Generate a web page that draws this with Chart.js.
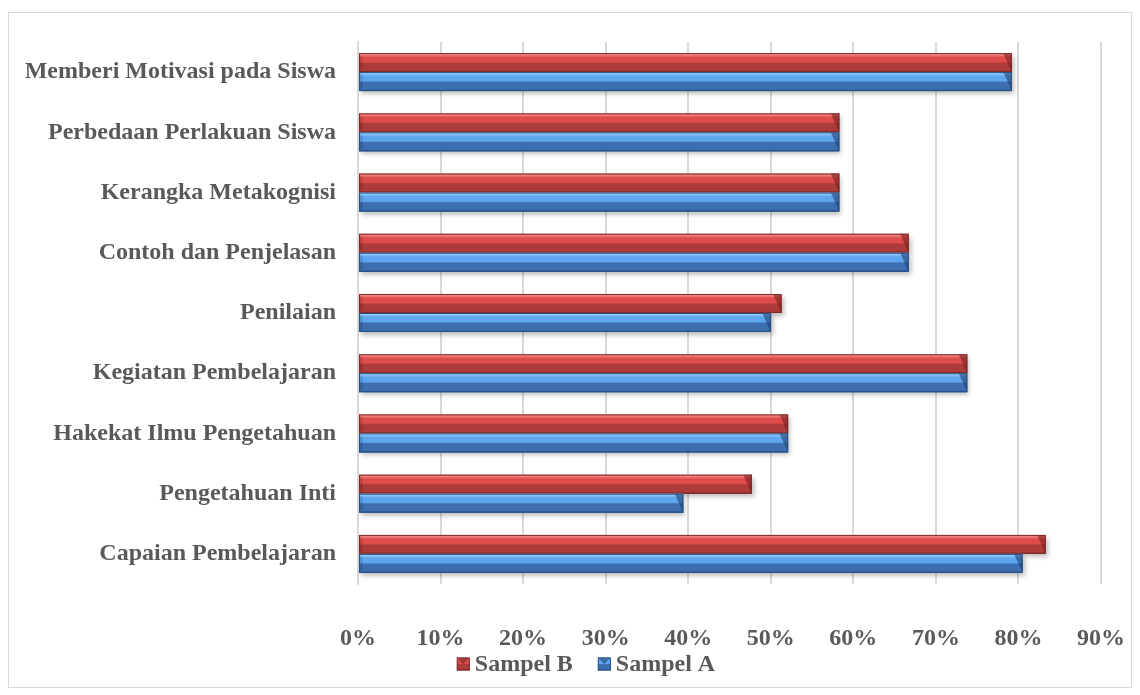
<!DOCTYPE html>
<html>
<head>
<meta charset="utf-8">
<script src="https://cdn.jsdelivr.net/npm/chart.js@4/dist/chart.umd.min.js"></script>
<style>
  html, body { margin: 0; padding: 0; background: #ffffff; }
  #wrap { width: 1140px; height: 695px; }
</style>
</head>
<body>
<div id="wrap"><canvas id="chart" width="1140" height="695"></canvas></div>
<script>
// Categories, listed top to bottom
const categories = [
  'Memberi Motivasi pada Siswa',
  'Perbedaan Perlakuan Siswa',
  'Kerangka Metakognisi',
  'Contoh dan Penjelasan',
  'Penilaian',
  'Kegiatan Pembelajaran',
  'Hakekat Ilmu Pengetahuan',
  'Pengetahuan Inti',
  'Capaian Pembelajaran'
];

// Percentages per category
const sampelB = [79.2, 58.3, 58.3, 66.7, 51.3, 73.8, 52.1, 47.7, 83.3];
const sampelA = [79.2, 58.3, 58.3, 66.7, 50.0, 73.8, 52.1, 39.4, 80.5];

const seriesNames = ['Sampel B', 'Sampel A'];

// Axis range and tick step (percent)
const axisMin = 0;
const axisMax = 90;
const axisStep = 10;

const FONT = { family: '"Liberation Serif", "Times New Roman", serif', weight: 'bold', size: 24 };
const TEXT = '#595959';
const GRID = '#d9d9d9';

// Shading for the bevelled bars, one palette per series
const palettes = [
  { base: '#c0504d', edge: '#f6a3a2', hi: '#f07a7a', upper: '#de4c4c', lower: '#ac3b39', dark: '#7e2b29', cap: 'rgba(110,30,28,0.55)' },
  { base: '#4f81bd', edge: '#b3dcff', hi: '#86c3f8', upper: '#60a6ee', lower: '#3d6eb0', dark: '#284f86', cap: 'rgba(25,55,100,0.55)' }
];

function faceGradient(ctx, top, bottom, p) {
  const g = ctx.createLinearGradient(0, top, 0, bottom);
  g.addColorStop(0.00, p.edge);
  g.addColorStop(0.10, p.hi);
  g.addColorStop(0.22, p.upper);
  g.addColorStop(0.46, p.upper);
  g.addColorStop(0.54, p.lower);
  g.addColorStop(0.90, p.lower);
  g.addColorStop(1.00, p.dark);
  return g;
}

function paintBar(ctx, el, p) {
  const { x, y, base, height } = el.getProps(['x', 'y', 'base', 'height'], true);
  const left = Math.min(base, x), right = Math.max(base, x);
  const top = y - height / 2, bottom = y + height / 2;
  const w = right - left;
  if (w <= 0) return;
  ctx.fillStyle = faceGradient(ctx, top, bottom, p);
  ctx.fillRect(left, top, w, height);
  // bevelled right end
  const b = Math.min(height * 0.45, w / 2);
  ctx.fillStyle = p.cap;
  ctx.beginPath();
  ctx.moveTo(right - b, top);
  ctx.lineTo(right, top);
  ctx.lineTo(right, bottom);
  ctx.closePath();
  ctx.fill();
  // small bevel at the left end
  ctx.beginPath();
  ctx.moveTo(left, top);
  ctx.lineTo(left + 4, top + 4);
  ctx.lineTo(left + 4, bottom - 4);
  ctx.lineTo(left, bottom);
  ctx.closePath();
  ctx.fillStyle = 'rgba(0,0,0,0.12)';
  ctx.fill();
  // outline
  ctx.strokeStyle = p.dark;
  ctx.lineWidth = 1;
  ctx.strokeRect(left + 0.5, top + 0.5, w - 1, height - 1);
}

const bevelBars = {
  id: 'bevelBars',
  beforeDatasetsDraw(chart) {
    const ctx = chart.ctx;
    ctx.save();
    ctx.shadowColor = 'rgba(0,0,0,0.28)';
    ctx.shadowBlur = 5;
    ctx.shadowOffsetX = 2;
    ctx.shadowOffsetY = 3;
  },
  afterDatasetsDraw(chart) {
    const ctx = chart.ctx;
    ctx.restore();
    ctx.save();
    chart.data.datasets.forEach((ds, i) => {
      const meta = chart.getDatasetMeta(i);
      if (meta.hidden) return;
      meta.data.forEach(el => paintBar(ctx, el, palettes[i]));
    });
    ctx.restore();
  }
};

// Frame around the whole chart plus the legend row
const frameAndLegend = {
  id: 'frameAndLegend',
  beforeDraw(chart) {
    const ctx = chart.ctx;
    ctx.save();
    ctx.fillStyle = '#ffffff';
    ctx.fillRect(0, 0, chart.width, chart.height);
    ctx.strokeStyle = GRID;
    ctx.lineWidth = 1;
    ctx.strokeRect(8.5, 12.5, 1123, 675);
    ctx.restore();
  },
  afterDraw(chart) {
    const ctx = chart.ctx;
    ctx.save();
    ctx.font = `${FONT.weight} ${FONT.size}px ${FONT.family}`;
    ctx.textBaseline = 'middle';
    const box = 13, gap = 5, spacing = 25;
    const items = chart.data.datasets.map((ds, i) => ({
      text: ds.label, p: palettes[i], w: box + gap + ctx.measureText(ds.label).width
    }));
    const total = items.reduce((s, it) => s + it.w, 0) + spacing * (items.length - 1);
    let cx = 586 - total / 2;
    const cy = 664;
    items.forEach(it => {
      const top = cy - box / 2;
      ctx.fillStyle = faceGradient(ctx, top, top + box, it.p);
      ctx.fillRect(cx, top, box, box);
      ctx.fillStyle = it.p.cap;
      ctx.beginPath();
      ctx.moveTo(cx, top);
      ctx.lineTo(cx + box, top);
      ctx.lineTo(cx + box / 2, top + box / 2);
      ctx.closePath();
      ctx.fill();
      ctx.strokeStyle = it.p.dark;
      ctx.lineWidth = 1;
      ctx.strokeRect(cx + 0.5, top + 0.5, box - 1, box - 1);
      ctx.fillStyle = TEXT;
      ctx.textAlign = 'left';
      ctx.fillText(it.text, cx + box + gap, cy + 1);
      cx += it.w + spacing;
    });
    ctx.restore();
  }
};

new Chart(document.getElementById('chart'), {
  type: 'bar',
  data: {
    labels: categories,
    datasets: [
      { label: seriesNames[0], data: sampelB, backgroundColor: palettes[0].base },
      { label: seriesNames[1], data: sampelA, backgroundColor: palettes[1].base }
    ]
  },
  options: {
    indexAxis: 'y',
    responsive: false,
    animation: false,
    devicePixelRatio: 1,
    categoryPercentage: 0.63,
    barPercentage: 1.0,
    layout: { padding: { top: 42, right: 39, left: 20, bottom: 44 } },
    plugins: {
      legend: { display: false },
      tooltip: { enabled: false }
    },
    scales: {
      x: {
        min: axisMin,
        max: axisMax,
        ticks: {
          stepSize: axisStep,
          callback: v => v + '%',
          font: FONT,
          color: TEXT,
          padding: 40,
          maxRotation: 0
        },
        grid: { color: GRID, lineWidth: 2, drawTicks: false },
        border: { display: false },
        afterFit: s => { s.height = 67; s.paddingLeft = 0; s.paddingRight = 0; }
      },
      y: {
        ticks: { font: FONT, color: TEXT, padding: 22 },
        grid: { display: false, drawTicks: false },
        border: { color: GRID, width: 2 },
        afterFit: s => { s.width = 338; }
      }
    }
  },
  plugins: [bevelBars, frameAndLegend]
});
</script>
</body>
</html>
